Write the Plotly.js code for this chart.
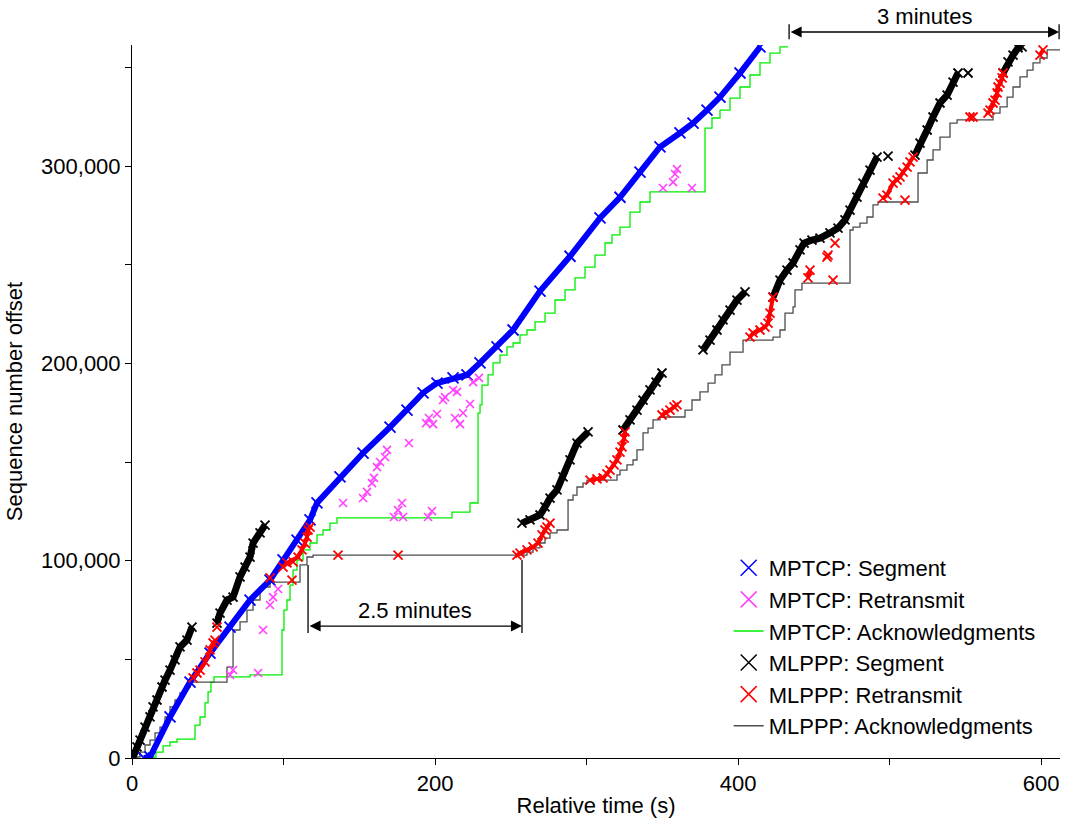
<!DOCTYPE html>
<html>
<head>
<meta charset="utf-8">
<script src="https://cdn.plot.ly/plotly-3.0.1.min.js"></script>
<style>html,body{margin:0;padding:0;background:#fff;}#chart{width:1070px;height:818px;}</style>
</head>
<body>
<div id="chart"></div>
<script>
// ---- MPTCP: Segment (blue) ----
var mptcpSegX = [7.9, 11.9, 25.1, 38.3, 51.5, 64.7, 77.9, 91.1, 99.7, 108.9, 117.5, 122.1, 137.3, 152.5, 170.3, 181.5, 192.1, 201.3, 211.9, 221.1, 229.7, 240.9, 251.5, 269.3, 289.1, 308.9, 322.1, 335.3, 348.5, 361.7, 370.3, 379.5, 388.1, 401.3, 414.5];
var mptcpSegY = [0, 500, 20800, 38500, 53200, 66400, 80100, 90200, 100400, 110500, 120700, 129300, 142500, 154600, 167800, 176400, 185100, 190100, 192700, 194200, 200300, 208400, 217000, 236700, 254400, 273800, 284300, 297100, 309800, 316900, 321900, 328500, 335100, 347300, 360500];

// ---- MPTCP: Retransmit (magenta) ----
var mptcpRetX = [64.7, 66.7, 83.2, 86.5, 91.1, 93.1, 96.4, 139.3, 152.5, 155.1, 158.4, 159.7, 161.7, 163.7, 167.0, 168.3, 182.8, 175.6, 178.2, 172.9, 178.9, 195.4, 198.0, 194.1, 196.0, 198.7, 201.3, 205.3, 206.6, 211.9, 214.5, 213.2, 216.5, 218.5, 223.1, 225.1, 229.0, 350.5, 357.1, 358.4, 359.7, 369.6];
var mptcpRetY = [42100, 44600, 43100, 64900, 77600, 81600, 85700, 129300, 131800, 134900, 139400, 142000, 147500, 150100, 152600, 156200, 159700, 125700, 129300, 122200, 122200, 122200, 125200, 169800, 172400, 169300, 174400, 181500, 183000, 186600, 185600, 172400, 169300, 174900, 179500, 190600, 192700, 289000, 292000, 296100, 298600, 289000];

// ---- MPTCP: Acknowledgments (green, step) ----
var mptcpAckX = [11.9, 15.8, 20.5, 25.1, 29.7, 41.6, 44.9, 48.2, 50.2, 52.1, 54.1, 77.9, 99.0, 100.3, 102.3, 104.3, 106.3, 108.9, 112.9, 117.5, 122.1, 126.1, 130.7, 135.3, 211.2, 223.1, 228.4, 229.7, 231.0, 235.0, 238.3, 242.9, 247.5, 251.5, 256.1, 260.7, 266.0, 272.6, 279.2, 285.8, 292.4, 299.0, 305.6, 312.2, 316.8, 322.1, 328.7, 335.3, 341.9, 378.2, 382.8, 388.1, 394.7, 401.3, 407.9, 414.5, 421.1, 427.7, 433.0];
var mptcpAckY = [500, 3000, 6100, 8100, 9600, 16700, 20800, 27900, 33500, 38500, 41100, 42100, 64900, 75000, 80100, 87700, 95300, 100400, 105500, 109000, 113100, 115600, 119100, 121700, 124700, 129300, 174900, 179000, 189100, 194200, 200300, 204300, 208400, 210400, 214500, 217000, 221100, 225600, 232200, 237300, 243400, 248900, 255000, 261100, 265200, 269200, 276800, 281900, 287000, 319400, 324500, 328500, 334600, 340200, 346300, 352400, 357400, 360500, 360500];

// ---- MLPPP: Segment (black), bursts separated by null ----
var mlpppSegX = [0.7, 3.3, 5.3, 8.6, 11.9, 13.9, 16.5, 19.8, 21.8, 25.1, 28.4, 31.7, 36.3, 39.6, null,
  56.1, 58.1, 62.7, 66.7, 71.3, 74.6, 77.9, 79.9, 84.5, 87.8, null,
  257.4, 262.7, 269.3, 272.6, 275.9, 280.5, 284.5, 289.1, 293.7, 301.0, null,
  324.1, 328.7, 333.3, 337.3, 341.9, 345.9, 349.8, null,
  376.9, 381.5, 386.1, 390.1, 394.7, 399.3, 404.6, null,
  423.1, 427.7, 432.3, 436.3, 440.9, 443.6, 448.8, 454.1, 460.7, 466.0, 470.6, 473.9, 478.5, 482.5, 487.1, 491.7, null,
  499.0, null,
  516.8, 520.1, 524.8, 528.7, 533.3, 538.0, 541.9, 545.2, null,
  551.8, null,
  574.9, 578.2, 581.5, 584.8, 587.5];
var mlpppSegY = [500, 5600, 9100, 15700, 20800, 25900, 29400, 36000, 39500, 44600, 49700, 56300, 59800, 66400, null,
  68400, 73500, 80100, 81600, 91800, 96800, 101900, 109000, 114100, 118100, null,
  119100, 120700, 123200, 127300, 131800, 135900, 142500, 151100, 159700, 165300, null,
  166300, 171400, 176400, 181500, 186600, 190600, 195200, null,
  206900, 211900, 217000, 222100, 227100, 232200, 236300, null,
  233700, 242300, 247400, 251000, 257600, 261100, 262600, 263600, 266200, 268700, 272800, 277800, 284400, 291500, 298100, 304700, null,
  305200, null,
  305700, 311800, 318400, 325000, 332100, 336100, 342700, 347300, null,
  347300, null,
  347300, 352900, 356400, 360000, 360500];

// ---- MLPPP: Retransmit (red), clusters separated by null ----
var mlpppRetX = [40.3, 42.9, 44.9, 48.2, 51.5, 53.5, 54.8, null, 56.1, null, 91.1, null,
  99.7, 102.3, 109.6, 112.2, 114.2, 115.5, 116.2, 117.5, null, 105.6, null, 106.3, null,
  136.0, null, 175.6, null,
  254.1, 256.1, 260.7, 264.7, 268.0, 270.6, 272.6, 273.9, 275.9, null,
  302.3, 306.9, 310.9, 313.5, 315.5, 318.2, 320.1, 322.1, 323.4, 324.8, 325.4, null,
  349.8, 352.5, 355.1, 357.8, 359.7, null,
  407.9, 409.9, 414.5, 417.8, 419.8, 421.1, 423.1, null,
  446.2, 447.5, null, 458.7, 459.4, null, 462.7, null, 464.0, null,
  495.7, 498.3, 502.3, 505.0, 506.9, 508.9, 511.6, 513.5, 515.5, null, 510.2, null,
  553.1, 555.1, null,
  565.0, 566.3, 568.3, 569.6, 571.0, 571.6, 572.9, 574.3, 574.9, null,
  599.3, 601.3];
var mlpppRetY = [40600, 43100, 44600, 48700, 54800, 58300, 59800, null, 66400, null, 91300, null,
  96800, 98900, 101900, 105500, 109000, 112000, 115600, 117100, null, 90200, null, 99400, null,
  102900, null, 102900, null,
  102900, 103900, 105500, 107000, 109000, 113100, 115600, 117100, 119100, null,
  140900, 141500, 142000, 144000, 146000, 148600, 151100, 155100, 157700, 162200, 165300, null,
  173900, 174900, 176400, 178000, 179000, null,
  213400, 215500, 217000, 218500, 220500, 225600, 233700, null,
  243400, 247400, null, 254000, 255000, null, 242300, null, 261100, null,
  283900, 285400, 291500, 293000, 294600, 297100, 299600, 302200, 304700, null, 282900, null,
  325000, 325000, null,
  327000, 328500, 332100, 333600, 337200, 340200, 342200, 344800, 347300, null,
  356400, 359000];

// ---- MLPPP: Acknowledgments (grey, step) ----
var mlpppAckX = [0.7, 5.3, 8.6, 11.9, 15.2, 18.5, 21.8, 25.1, 28.4, 31.7, 35.0, 38.3, 62.7, 66.7, 71.3, 75.9, 79.9, 84.5, 91.1, 110.9, 115.5, 119.5, 260.7, 264.7, 269.3, 272.6, 275.9, 280.5, 287.8, 291.1, 293.7, 297.7, 300.3, 320.1, 322.1, 326.7, 330.7, 333.3, 337.3, 340.6, 343.9, 348.5, 365.0, 369.6, 374.9, 380.2, 384.8, 389.4, 394.7, 403.3, 423.1, 427.7, 431.0, 436.3, 437.6, 442.2, 473.9, 475.9, 480.5, 485.1, 489.1, 492.4, 518.8, 524.8, 528.7, 533.3, 539.9, 544.6, 568.3, 572.9, 577.6, 581.5, 586.1, 590.8, 594.7, 599.3, 604.0, 612.5];
var mlpppAckY = [500, 3000, 6600, 9100, 12700, 15700, 20800, 25900, 29400, 33000, 36000, 38500, 46100, 64900, 69000, 75000, 80100, 86700, 89200, 97900, 101900, 102900, 104400, 106500, 109000, 111500, 114100, 115600, 130800, 133300, 137400, 139400, 140900, 143500, 146000, 148600, 151100, 156200, 164800, 167300, 171400, 172900, 176400, 181500, 185600, 190100, 194200, 199300, 205800, 211900, 213400, 217000, 225600, 228700, 237300, 240800, 267700, 269200, 271200, 274300, 280400, 281900, 296600, 303200, 308300, 314800, 321900, 323500, 327000, 330100, 335100, 340200, 345300, 348800, 352400, 354900, 359000, 359000];

// ---- axis ticks and labels ----
var xTickVals = [0, 200, 400, 600];
var xMinorVals = [100, 300, 500];
var yTickVals = [0, 100000, 200000, 300000];
var yMinorVals = [50000, 150000, 250000, 350000];
var seriesNames = ['MPTCP: Segment', 'MPTCP: Retransmit', 'MPTCP: Acknowledgments', 'MLPPP: Segment', 'MLPPP: Retransmit', 'MLPPP: Acknowledgments'];
var xTitle = 'Relative time (s)';
var yTitle = 'Sequence number offset';
// annotations (data units)
var gapLabel = '2.5 minutes', gapStart = 116.2, gapEnd = 257.4, gapY = 66900;
var spanLabel = '3 minutes', spanStart = 433.7, spanEnd = 611.9;

var FONT = 'Liberation Sans, Arial, Helvetica, sans-serif';
var C_BLUE = '#0000ff', C_MAG = '#ff40ff', C_GREEN = '#00ee00', C_BLACK = '#000000', C_RED = '#ff0000', C_GREY = '#4d4d4d';

var traces = [
  {x: mptcpAckX, y: mptcpAckY, mode: 'lines', line: {color: C_GREEN, width: 1.3, shape: 'hv'}, showlegend: false, hoverinfo: 'skip'},
  {x: mlpppAckX, y: mlpppAckY, mode: 'lines', line: {color: C_GREY, width: 1.3, shape: 'hv'}, showlegend: false, hoverinfo: 'skip'},
  {x: mptcpSegX, y: mptcpSegY, mode: 'lines+markers', line: {color: C_BLUE, width: 6}, marker: {symbol: 'x-thin-open', size: 11, color: C_BLUE, line: {width: 1.8, color: C_BLUE}}, showlegend: false},
  {x: mptcpRetX, y: mptcpRetY, mode: 'markers', marker: {symbol: 'x-thin-open', size: 8, color: C_MAG, line: {width: 1.6, color: C_MAG}}, showlegend: false},
  {x: mlpppSegX, y: mlpppSegY, mode: 'lines+markers', connectgaps: false, line: {color: C_BLACK, width: 7}, marker: {symbol: 'x-thin-open', size: 9, color: C_BLACK, line: {width: 1.8, color: C_BLACK}}, showlegend: false},
  {x: mlpppRetX, y: mlpppRetY, mode: 'lines+markers', connectgaps: false, line: {color: C_RED, width: 4}, marker: {symbol: 'x-thin-open', size: 9, color: C_RED, line: {width: 1.8, color: C_RED}}, showlegend: false}
];
// legend-only entries
var legendStyles = [
  {mode: 'markers', marker: {symbol: 'x-thin-open', size: 16, color: C_BLUE, line: {width: 1.5, color: C_BLUE}}},
  {mode: 'markers', marker: {symbol: 'x-thin-open', size: 16, color: C_MAG, line: {width: 1.5, color: C_MAG}}},
  {mode: 'lines', line: {color: C_GREEN, width: 1.5}},
  {mode: 'markers', marker: {symbol: 'x-thin-open', size: 16, color: C_BLACK, line: {width: 1.5, color: C_BLACK}}},
  {mode: 'markers', marker: {symbol: 'x-thin-open', size: 16, color: C_RED, line: {width: 1.5, color: C_RED}}},
  {mode: 'lines', line: {color: C_GREY, width: 1.5}}
];
legendStyles.forEach(function (s, i) {
  var t = Object.assign({x: [null], y: [null], name: seriesNames[i], legendgroup: 'g' + i, showlegend: true, hoverinfo: 'skip'}, s);
  traces.push(t);
});

var layout = {
  width: 1070, height: 818,
  margin: {l: 132, r: 10, t: 45, b: 60},
  paper_bgcolor: '#ffffff', plot_bgcolor: '#ffffff',
  font: {family: FONT, size: 22, color: '#000'},
  showlegend: true,
  legend: {x: 0.643, y: 0.296, xanchor: 'left', yanchor: 'top', bgcolor: 'rgba(0,0,0,0)', font: {family: FONT, size: 22, color: '#000'}, tracegroupgap: 0, traceorder: 'grouped'},
  xaxis: {
    range: [0, 612.5], showgrid: false, zeroline: false,
    showline: true, linecolor: '#000', linewidth: 1,
    ticks: 'outside', ticklen: 6, tickwidth: 1, tickcolor: '#000',
    tickmode: 'array', tickvals: xTickVals,
    minor: {tickvals: xMinorVals, ticks: 'outside', ticklen: 6, tickwidth: 1, tickcolor: '#000', showgrid: false},
    tickfont: {family: FONT, size: 22, color: '#000'},
    title: {text: xTitle, font: {family: FONT, size: 22, color: '#000'}, standoff: 6}
  },
  yaxis: {
    range: [0, 361500], showgrid: false, zeroline: false,
    showline: true, linecolor: '#000', linewidth: 1,
    ticks: 'outside', ticklen: 6, tickwidth: 1, tickcolor: '#000',
    tickmode: 'array', tickvals: yTickVals, tickformat: ',d',
    minor: {tickvals: yMinorVals, ticks: 'outside', ticklen: 6, tickwidth: 1, tickcolor: '#000', showgrid: false},
    tickfont: {family: FONT, size: 22, color: '#000'},
    title: {text: yTitle, font: {family: FONT, size: 22, color: '#000'}, standoff: 12}
  },
  shapes: [
    {type: 'line', xref: 'x', yref: 'y', x0: gapStart, x1: gapStart, y0: 63400, y1: 97900, line: {color: '#000', width: 1.3}},
    {type: 'line', xref: 'x', yref: 'y', x0: gapEnd, x1: gapEnd, y0: 63400, y1: 100400, line: {color: '#000', width: 1.3}},
    {type: 'line', xref: 'x', yref: 'paper', x0: spanStart, x1: spanStart, y0: 1.008, y1: 1.029, line: {color: '#000', width: 1.3}},
    {type: 'line', xref: 'x', yref: 'paper', x0: spanEnd, x1: spanEnd, y0: 1.008, y1: 1.029, line: {color: '#000', width: 1.3}}
  ],
  annotations: [
    {x: gapEnd, y: gapY, xref: 'x', yref: 'y', ax: gapStart, ay: gapY, axref: 'x', ayref: 'y', text: '', showarrow: true, arrowhead: 2, arrowside: 'end+start', arrowsize: 1.7, arrowwidth: 1.3, arrowcolor: '#000'},
    {x: (gapStart + gapEnd) / 2, y: gapY, xref: 'x', yref: 'y', yanchor: 'bottom', yshift: 1, text: gapLabel, showarrow: false, font: {family: FONT, size: 22, color: '#000'}},
    {x: spanEnd, y: 1.0182, xref: 'x', yref: 'paper', ax: spanStart, ay: 0, axref: 'x', ayref: 'pixel', text: '', showarrow: true, arrowhead: 2, arrowside: 'end+start', arrowsize: 1.7, arrowwidth: 1.3, arrowcolor: '#000'},
    {x: (spanStart + spanEnd) / 2, y: 1.0182, xref: 'x', yref: 'paper', yanchor: 'bottom', yshift: 1, text: spanLabel, showarrow: false, font: {family: FONT, size: 22, color: '#000'}}
  ]
};

Plotly.newPlot('chart', traces, layout, {displayModeBar: false, staticPlot: true});
</script>
</body>
</html>
